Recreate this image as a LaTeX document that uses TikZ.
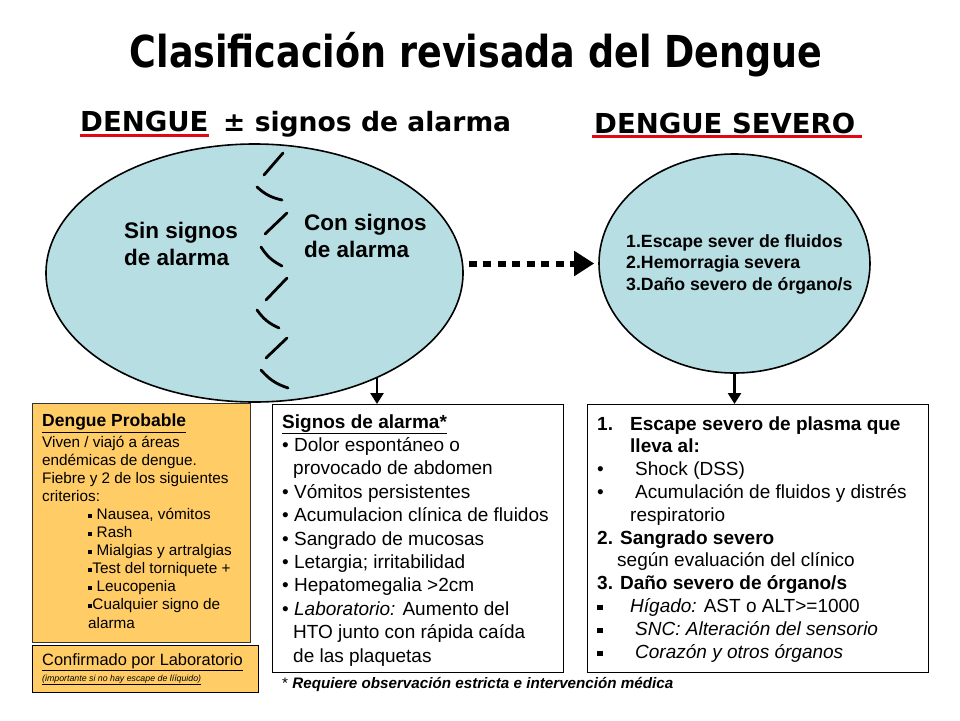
\documentclass[tikz,border=0pt]{standalone}
\usepackage{graphicx}
\usepackage{fontspec}
\setmainfont{Liberation Sans}
\newfontfamily\headfont{DejaVu Sans}
\usetikzlibrary{shapes.geometric,arrows.meta,positioning}
\definecolor{ellblue}{HTML}{B7DEE3}
\definecolor{probable}{HTML}{FFCC66}
\definecolor{ulred}{HTML}{E30613}
\newcommand{\sqbul}{\rule[0.2ex]{0.28em}{0.28em}}
\newcommand{\fsz}[2]{\fontsize{#1}{#2}\selectfont}
\tikzset{
  bubble/.style={ellipse, draw, line width=1.6pt, fill=ellblue, inner sep=0pt},
  infobox/.style={rectangle, draw, line width=1pt, inner sep=0pt, anchor=north west},
  txt/.style={anchor=base west, inner sep=0pt, align=left},
  heading/.style={txt, font={\fsz{27.5}{30}\headfont\bfseries}},
  redul/.style={ulred, line width=3pt},
  wave/.style={line width=2.8pt, line cap=round},
  downarr/.style={line width=2.6pt, -{Triangle[length=11pt,width=13pt]}},
  dotarr/.style={line width=6pt, dash pattern=on 8pt off 6.5pt, -{Triangle[length=20pt,width=24pt]}},
}
\begin{document}
\begin{tikzpicture}[x=1pt, y=-1pt]
  \useasboundingbox (0,0) rectangle (960,720);
  % title and headings
  \node[anchor=base, inner sep=0pt, font={\fsz{44}{44}\headfont\bfseries}] (title) at (476,67)
    {\scalebox{0.83}[1]{Clasificación revisada del Dengue}};
  \node[heading] (hdengue) at (80,131) {DENGUE};
  \node[heading, font={\fsz{26.6}{30}\headfont\bfseries}] (hsignos) at (223,131) {± signos de alarma};
  \node[heading] (hsevero) at (594,133) {DENGUE SEVERO};
  \draw[redul] ([yshift=-4.5pt]hdengue.base west) -- ([yshift=-4.5pt]hdengue.base east);
  \draw[redul] ([xshift=-2pt, yshift=-3pt]hsevero.base west) -- ([xshift=6pt, yshift=-3pt]hsevero.base east);
  % the two groups (text nodes sit on the baseline of their last line)
  \node[bubble, minimum width=417pt, minimum height=258pt] (dengue) at (254.5,273) {};
  \node[bubble, minimum width=271pt, minimum height=219pt] (severo) at (734.5,263.5) {};
  \foreach \xa/\ya/\xb/\yb in {283/153/264/175, 287/213/265/234, 287/278/266/300, 287/338/266/358}
    \draw[wave] (\xa,\ya) -- (\xb,\yb);
  \foreach \xa/\ya/\xb/\yb in {257/187/282/200, 261/247/282/266, 257/310/279/328, 261/370/288/388}
    \draw[wave] (\xa,\ya) to[bend right=15] (\xb,\yb);
  \node[txt, font={\fsz{22.5}{27}\bfseries}] (sin) at (124,265) {Sin signos\\de alarma};
  \node[txt, font={\fsz{22.5}{27}\bfseries}] (con) at (304,257) {Con signos\\de alarma};
  \node[txt, font={\fsz{17.7}{21.5}\bfseries}] (sevitems) at (626,290)
    {1.Escape sever de fluidos\\2.Hemorragia severa\\3.Daño severo de órgano/s};
  \draw[dotarr, shorten <=5pt, shorten >=4pt] (dengue.east |- severo.west) -- (severo.west);
  % boxes
  \node[infobox, fill=probable, draw=black!80, minimum width=218pt, minimum height=239pt] (probbox) at (32,403) {};
  \node[infobox, fill=probable, minimum width=226pt, minimum height=47pt] (labbox) at (32,645) {};
  \node[infobox, minimum width=291pt, minimum height=268pt] (alarmbox) at (272,404) {};
  \node[infobox, minimum width=341pt, minimum height=268pt] (sevbox) at (587,404) {};
  \coordinate (dtip) at (377,378);
  \draw[downarr] (dtip) -- (dtip |- alarmbox.north);
  \draw[downarr] (severo.south) -- (severo.south |- sevbox.north);
  % box texts
  \node[txt, font={\fsz{15.3}{18.1}}] (problist) at (42,628) {{\fsz{17.5}{18.1}\textbf{\underline{Dengue Probable}}}\\[2pt]
    Viven / viajó a áreas\\
    endémicas de dengue.\\
    Fiebre y 2 de los siguientes\\
    criterios:\\
    \hspace*{46pt}\sqbul\ Nausea, vómitos\\
    \hspace*{46pt}\sqbul\ Rash\\
    \hspace*{46pt}\sqbul\ Mialgias y artralgias\\
    \hspace*{46pt}\sqbul Test del torniquete +\\
    \hspace*{46pt}\sqbul\ Leucopenia\\
    \hspace*{46pt}\sqbul Cualquier signo de\\
    \hspace*{46pt}alarma};
  \node[txt, font={\fsz{16.4}{18}}] (labtxt) at (42,665) {\underline{Confirmado por Laboratorio}};
  \node[txt, font={\fsz{8.8}{10}\itshape}] (labnote) at (42,681) {\underline{(importante si no hay escape de lííquido)}};
  \node[txt, font={\fsz{19}{23.4}}] (alarmlist) at (282,662) {\textbf{\underline{Signos de alarma*}}\\
    • Dolor espontáneo o\\
    \hspace*{11pt}provocado de abdomen\\
    • Vómitos persistentes\\
    • Acumulacion clínica de fluidos\\
    • Sangrado de mucosas\\
    • Letargia; irritabilidad\\
    • Hepatomegalia >2cm\\
    • \textit{Laboratorio:} Aumento del\\
    \hspace*{11pt}HTO junto con rápida caída\\
    \hspace*{11pt}de las plaquetas};
  \node[txt, font={\fsz{15.2}{18}\bfseries\itshape}] (footnote) at (282,688)
    {{\mdseries\upshape *} Requiere observación estricta e intervención médica};
  \node[txt, font={\fsz{19}{22.8}}] (sevlist) at (597,658) {\textbf{\makebox[33pt][l]{1.}Escape severo de plasma que}\\
    \hspace*{33pt}\textbf{lleva al:}\\
    \makebox[38pt][l]{•}Shock (DSS)\\
    \makebox[38pt][l]{•}Acumulación de fluidos y distrés\\
    \hspace*{33pt}respiratorio\\
    \textbf{2. Sangrado severo}\\
    \hspace*{20pt}según evaluación del clínico\\
    \textbf{3. Daño severo de órgano/s}\\
    \makebox[33pt][l]{\sqbul}\textit{Hígado:} AST o ALT>=1000\\
    \makebox[38pt][l]{\sqbul}\textit{SNC: Alteración del sensorio}\\
    \makebox[38pt][l]{\sqbul}\textit{Corazón y otros órganos}};
\end{tikzpicture}
\end{document}
